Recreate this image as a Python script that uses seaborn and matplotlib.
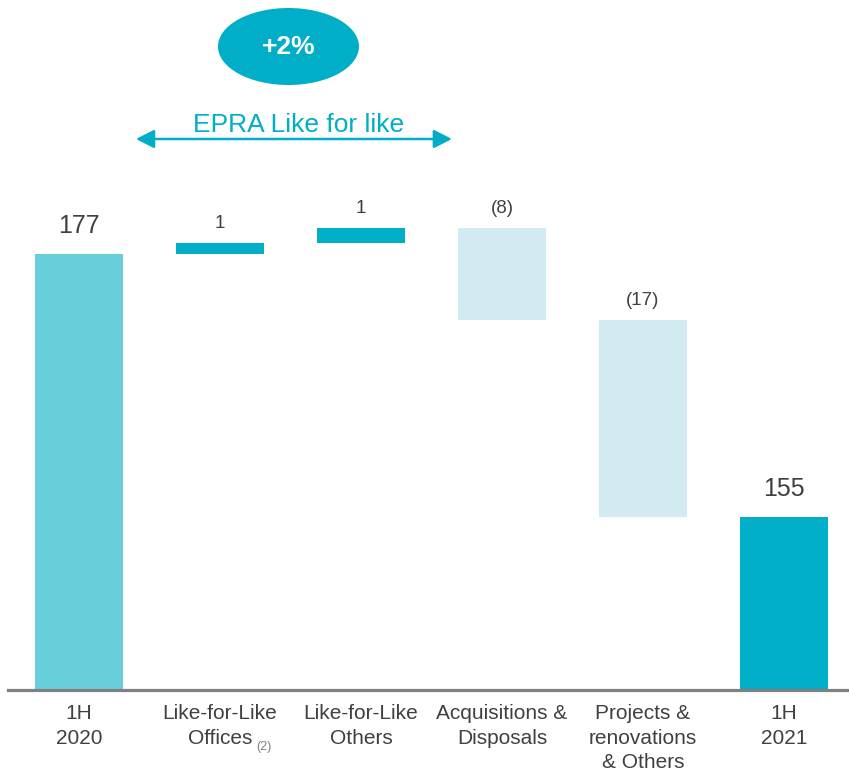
import numpy as np
import pandas as pd
import matplotlib
matplotlib.use("Agg")
import matplotlib.pyplot as plt
from matplotlib.patches import Ellipse
import seaborn as sns

# ---------------- data ----------------
categories = ["1H\n2020", "Like-for-Like\nOffices", "Like-for-Like\nOthers",
              "Acquisitions &\nDisposals", "Projects &\nrenovations\n& Others", "1H\n2021"]
start_value = 177.4
deltas = [0.9, 1.3, -7.8, -16.6]
end_value = 155.2
kinds = ["start", "up", "up", "down", "down", "end"]
footnote = "(2)"
badge_text = "+2%"
span_text = "EPRA Like for like"

# ---------------- styles ----------------
kind_colors = {"start": "#68CEDC", "up": "#00AEC7", "down": "#D2EBF2", "end": "#00AEC7"}
teal = "#00AEC7"
text_color = "#404040"

sns.set_style("white")
plt.rcParams["font.family"] = ["Liberation Sans", "DejaVu Sans"]

# waterfall geometry derived from the data
levels = np.concatenate([[start_value], start_value + np.cumsum(deltas)])
bottoms, heights, labels = [0.0], [start_value], [f"{start_value:.0f}"]
for i, d in enumerate(deltas):
    lo = min(levels[i], levels[i + 1])
    bottoms.append(lo)
    heights.append(abs(d))
    labels.append(f"{abs(d):.0f}" if d >= 0 else f"({abs(d):.0f})")
bottoms.append(0.0)
heights.append(end_value)
labels.append(f"{end_value:.0f}")
tops = np.array(bottoms) + np.array(heights)

df = pd.DataFrame({"category": categories, "height": heights, "bottom": bottoms, "kind": kinds})

fig = plt.figure(figsize=(8.49, 7.73), dpi=100)
ax = fig.add_axes([8 / 849, 83 / 773, 841 / 849, 690 / 773])

sns.barplot(data=df, x="category", y="height", order=categories, bottom=df["bottom"].values,
            width=0.624, errorbar=None, color=teal, linewidth=0, ax=ax)
for patch, k in zip(ax.patches, kinds):
    patch.set_facecolor(kind_colors[k])
    patch.set_edgecolor("none")

ax.set_xlim(-0.5035, 5.461)
ax.set_ylim(140.6, 198.83)
ax.set_xlabel("")
ax.set_ylabel("")
ax.set_yticks([])
for s in ["top", "left", "right"]:
    ax.spines[s].set_visible(False)
ax.spines["bottom"].set_color("#808080")
ax.spines["bottom"].set_linewidth(2.3)
ax.tick_params(axis="x", length=0, pad=10, labelsize=15, labelcolor=text_color)
for lbl in ax.get_xticklabels():
    lbl.set_linespacing(1.38)

# value labels
for i, (t, lab, k) in enumerate(zip(tops, labels, kinds)):
    big = k in ("start", "end")
    ax.annotate(lab, xy=(i, t), xytext=(0, 15 if big else 11), textcoords="offset points",
                ha="center", va="baseline", fontsize=18 if big else 13.5, color=text_color)

# footnote marker after "Offices"
ax.annotate(footnote, xy=(1, 0), xycoords=("data", "axes fraction"),
            xytext=(26, -43.5), textcoords="offset points",
            ha="left", va="baseline", fontsize=9, color="#808080")

# badge ellipse
ax.add_patch(Ellipse((0.3335, 0.9326), 0.1677, 0.1116, transform=ax.transAxes,
                     facecolor=teal, edgecolor="none", clip_on=False))
ax.text(0.3335, 0.9326, badge_text, transform=ax.transAxes, ha="center", va="center",
        fontsize=19, fontweight="bold", color="white")

# double arrow + label
ax.annotate("", xy=(2.645, 187.1), xytext=(0.404, 187.1),
            arrowprops=dict(arrowstyle="<|-|>,head_length=0.55,head_width=0.28",
                            mutation_scale=20, color=teal, lw=1.8, shrinkA=0, shrinkB=0))
ax.text((0.404 + 2.645) / 2 + 0.03, 187.65, span_text, ha="center", va="baseline",
        fontsize=19, color=teal)

fig.savefig("out.png", dpi=100)
